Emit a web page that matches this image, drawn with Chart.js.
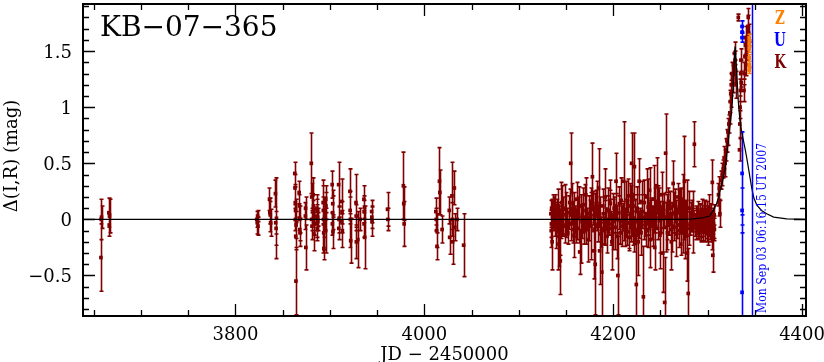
<!DOCTYPE html>
<html><head><meta charset="utf-8">
<script src="https://cdn.jsdelivr.net/npm/chart.js@4.4.1/dist/chart.umd.min.js"></script>
<style>html,body{margin:0;padding:0;background:#fff;overflow:hidden}#wrap{width:824px;height:362px}</style>
</head><body><div id="wrap"><canvas id="c" width="824" height="362"></canvas></div>
<script>
const eventTitle = "KB−07−365";
const xTitle = "JD − 2450000";
const yTitle = "Δ(I,R) (mag)";
const xTickValues = [3800, 4000, 4200, 4400];
const xTickLabels = ["3800", "4000", "4200", "4400"];
const yTickValues = [-0.5, 0, 0.5, 1, 1.5];
const yTickLabels = ["−0.5", "0", "0.5", "1", "1.5"];
const legendLabels = ["Z", "U", "K"];
const markerJD = 4346.76;
const markerText = "Mon Sep 03 06:16:15 UT 2007";

// K observations (JD-2450000, delta mag, error)
const kJD = [
 3657.5,3657.8,3658.1,3665.9,3666.3,3666.6,
 3822.5,3823.0,3823.4,3823.8,3836.0,3836.4,3836.8,3837.2,3842.3,3842.6,3843.0,3843.4,
 3862.8,3863.0,3863.3,3863.5,3863.8,3864.0,3867.4,3867.8,3868.1,3874.0,
 3874.5,3880.3,3880.7,3882.2,3882.5,3882.8,3883.1,3886.0,3886.4,3886.8,
 3887.2,3892.8,3893.2,3893.6,3895.0,3895.4,3895.8,3902.4,3902.8,3903.2,
 3909.2,3909.6,3912.4,3912.8,3913.2,3921.2,3921.6,3922.0,3927.6,3928.0,
 3929.6,3932.0,3936.0,3936.4,3936.8,3944.2,3944.6,3961.0,3961.4,3977.8,
 3978.2,3978.6,
 3863.6,3864.2,3867.6,3868.4,3874.2,3880.5,3881.0,3882.6,3883.4,3886.2,
 3886.6,3887.0,3893.0,3893.4,3895.2,3895.6,3902.6,3903.0,3909.4,3912.6,
 3921.4,3927.8,3936.2,3936.6,3944.4,
 4012.2,4012.6,4013.0,4013.4,4016.0,4016.4,4018.8,4026.4,4026.8,4029.2,
 4029.6,4030.0,4031.8,4032.2,4034.6,4041.6,
 4134.0,4134.4,4134.8,4135.3,4137.0,4137.5,4138.2,4140.0,4141.5,4142.0,
 4142.5,4143.0,4144.0,4145.0,4146.2,4147.0,4148.5,4150.0,4152.0,4154.0,
 4155.0,4155.6,4157.0,4158.5,4160.0,4161.2,4162.0,4163.5,4164.5,4165.5,
 4167.0,4168.0,4169.5,4171.0,4172.0,4173.0,4175.0,4176.5,4178.0,4178.6,
 4179.2,4180.0,4181.0,4182.0,4183.5,4184.5,4185.0,4185.6,4186.5,4188.0,
 4189.0,4190.0,4191.5,4192.5,4193.5,4195.0,4196.0,4197.0,4198.5,4199.5,
 4201.0,4202.0,4203.0,4204.0,4205.0,4206.0,4207.5,4208.5,4210.0,4211.0,
 4212.0,4213.5,4215.0,4216.0,4217.0,4218.5,4219.5,4220.5,4221.5,4222.5,
 4223.5,4224.5,4225.5,4226.5,4227.5,4228.5,4229.5,4231.0,4232.0,4233.0,
 4234.0,4235.5,4236.5,4237.5,4238.5,4239.5,4240.5,4241.5,4243.0,4244.0,
 4245.0,4246.0,4247.0,4248.5,4249.5,4250.5,4251.5,4252.5,4253.5,4254.5,
 4255.5,4256.5,4257.5,4258.5,4259.5,4260.5,4261.5,4262.5,4263.5,4264.5,
 4265.5,4266.5,4267.5,4268.5,4269.5,4270.5,4271.5,4272.5,4273.5,4274.5,
 4275.5,4276.5,4277.5,4278.5,4279.5,4280.5,4281.5,4283.0,4284.0,4285.0,
 4286.0,4287.0,4287.5,4288.0,4288.5,4289.0,4289.5,4290.0,4290.5,4291.0,
 4291.5,4292.0,4292.5,4293.0,4293.5,4294.0,4294.5,4295.0,4295.5,4296.0,
 4296.5,4297.0,4297.5,4298.0,4298.5,4299.0,4299.5,4300.0,4300.5,4301.0,
 4301.5,4302.0,4302.5,4303.0,4303.5,4304.0,4304.5,4305.0,4305.5,4306.0,
 4306.5,4307.0,
 4134.6,4136.0,4138.6,4139.0,4141.0,4143.5,4145.5,4146.8,4149.0,4151.0,
 4153.0,4156.0,4157.5,4159.0,4160.5,4163.0,4166.0,4168.5,4170.0,4171.5,
 4174.0,4177.0,4179.6,4180.5,4183.0,4187.0,4189.5,4191.0,4194.0,4196.5,
 4198.0,4200.0,4202.5,4204.5,4206.5,4209.0,4211.5,4214.0,4216.5,4218.0,
 4220.0,4222.0,4225.0,4227.0,4230.0,4232.5,4235.0,4237.0,4239.0,4242.0,
 4244.5,4247.5,4250.0,4253.0,4256.0,4258.0,4260.0,4262.0,4264.0,4266.0,
 4268.0,4270.0,4272.0,4274.0,4276.0,4278.0,4280.0,4282.0,4284.5,4286.5,
 4288.2,4289.2,4290.2,4291.2,4292.2,4293.2,4294.2,4295.2,4296.2,4297.2,
 4298.2,4299.2,4300.2,4301.2,4302.2,4303.2,4304.2,4305.2,4306.2,4307.2,
 4311.5,4312.0,4312.5,4313.0,4314.5,4315.5,4316.5,4317.5,4318.5,4319.5,
 4320.5,4321.5,4322.5,4323.5,4324.0,4324.5,4325.0,4325.5,4326.5,4327.5,
 4328.5,4329.0,4329.5,4330.0,4332.5,4333.8,4334.1,4334.4,4334.7,4335.0,
 4335.3,4335.6,4338.5,4339.0,4339.5,4340.0,4340.5,4341.0,4341.5,4342.0,
 4342.5,4343.0,4343.5
];
const kMag = [
 -0.34,0.00,0.02,0.06,-0.05,0.03,
 0.00,-0.03,0.03,-0.06,0.18,0.06,0.04,-0.03,0.23,-0.03,-0.08,0.01,
 0.41,0.28,0.14,0.00,-0.15,-0.55,0.24,0.00,-0.09,0.03,
 -0.25,0.50,0.20,0.22,0.07,0.00,-0.13,0.03,-0.04,0.08,
 -0.02,0.15,0.00,-0.26,0.05,-0.10,0.12,0.31,0.06,-0.11,
 0.31,0.00,0.16,0.06,-0.10,0.25,0.00,-0.19,0.15,-0.20,
 -0.18,0.00,0.18,0.07,-0.16,0.07,-0.02,0.09,0.00,0.30,
 0.14,-0.04,
 0.08,-0.05,0.12,-0.12,0.10,0.00,-0.06,0.12,-0.04,0.10,
 -0.09,0.02,0.08,-0.12,0.00,0.18,-0.04,0.14,-0.08,-0.02,
 0.08,0.03,-0.04,0.11,0.02,
 0.07,0.00,-0.10,-0.24,0.34,0.24,-0.09,0.08,-0.16,0.21,
 0.00,-0.20,0.28,-0.07,0.00,-0.23,
 0.05,-0.10,0.10,-0.20,0.00,0.08,-0.05,0.03,-0.15,0.12,
 -0.22,0.02,-0.37,0.08,-0.02,0.10,-0.06,0.04,-0.12,0.15,
 0.50,-0.04,0.06,-0.14,0.00,0.18,-0.08,0.04,-0.29,0.12,
 -0.02,0.08,-0.10,0.22,0.00,-0.18,0.05,-0.06,0.38,0.10,
 -0.28,0.02,-0.40,0.14,-0.05,0.28,0.05,-0.28,0.00,-0.47,
 0.12,-0.10,0.20,0.00,-0.15,0.08,-0.04,0.14,-0.20,0.03,
 0.10,-0.07,0.34,0.00,-0.50,0.06,-0.12,0.17,0.02,0.34,
 -0.09,0.08,-0.03,0.21,-0.16,0.05,0.50,-0.08,0.12,0.47,
 -0.02,-0.58,0.10,-0.20,0.34,0.00,-0.12,0.07,-0.69,0.15,
 -0.05,0.20,-0.10,0.03,0.26,-0.18,0.09,-0.03,0.18,-0.25,
 0.05,0.30,-0.08,0.13,-0.14,0.00,0.22,-0.30,0.08,-0.74,
 0.59,0.02,-0.12,0.16,-0.04,0.10,-0.20,0.05,0.32,-0.07,
 0.12,-0.13,0.00,0.20,-0.10,0.07,-0.22,0.04,0.15,-0.06,
 0.34,-0.15,0.02,-0.30,-0.66,0.10,-0.04,0.05,-0.10,0.00,
 0.67,-0.03,0.04,-0.08,0.02,-0.05,0.06,-0.10,0.00,-0.06,
 0.05,-0.02,-0.12,0.03,-0.07,0.08,-0.04,0.01,-0.09,0.04,
 -0.03,-0.11,0.07,-0.05,0.02,-0.08,0.06,-0.02,-0.13,0.03,
 -0.06,0.10,-0.04,0.00,-0.10,0.05,-0.15,0.33,-0.32,0.02,
 -0.07,0.04,
 -0.04,0.07,0.12,-0.08,0.03,-0.12,0.15,-0.05,0.09,-0.02,
 0.06,0.14,-0.09,0.04,-0.06,0.10,-0.14,0.02,0.13,-0.07,
 0.01,0.16,-0.10,0.08,0.12,-0.13,0.05,-0.03,0.09,0.17,
 -0.08,-0.02,0.11,-0.15,0.14,-0.06,0.04,0.09,-0.11,0.12,
 0.03,-0.14,0.07,-0.05,0.16,0.02,-0.09,0.11,0.05,-0.06,
 0.08,0.15,-0.12,0.04,-0.07,0.09,0.13,-0.09,0.06,0.02,
 -0.05,0.11,0.08,-0.12,0.05,0.10,-0.08,0.03,0.07,-0.05,
 0.00,0.03,-0.07,-0.02,0.05,-0.09,0.02,-0.06,0.07,-0.04,
 0.01,-0.10,0.04,-0.03,-0.08,0.06,-0.01,-0.06,-0.04,-0.09,
 0.22,0.15,0.28,0.05,0.35,0.40,0.45,0.55,0.50,0.62,
 0.70,0.78,0.85,0.95,1.05,1.12,1.20,1.30,1.25,1.38,
 1.48,1.42,1.32,1.20,1.80,0.62,0.85,1.00,1.15,1.30,
 1.42,1.22,1.15,1.30,1.45,1.55,1.62,1.38,1.50,1.62,
 1.72,1.80,1.66
];
const kErr = [
 0.30,0.18,0.10,0.13,0.10,0.15,
 0.07,0.10,0.05,0.08,0.10,0.10,0.15,0.12,0.12,0.10,0.15,0.36,
 0.10,0.12,0.15,0.10,0.12,0.30,0.10,0.12,0.10,0.12,
 0.20,0.27,0.12,0.15,0.10,0.10,0.15,0.10,0.12,0.10,
 0.08,0.20,0.30,0.10,0.15,0.20,0.12,0.12,0.15,0.15,
 0.20,0.12,0.20,0.10,0.15,0.20,0.25,0.20,0.25,0.15,
 0.25,0.10,0.12,0.10,0.28,0.10,0.13,0.15,0.10,0.30,
 0.15,0.20,
 0.10,0.12,0.10,0.12,0.10,0.10,0.12,0.10,0.10,0.12,
 0.10,0.08,0.12,0.15,0.10,0.12,0.10,0.12,0.10,0.10,
 0.12,0.10,0.12,0.10,0.10,
 0.12,0.10,0.15,0.12,0.30,0.20,0.12,0.12,0.15,0.30,
 0.15,0.20,0.15,0.12,0.10,0.28,
 0.12,0.15,0.08,0.25,0.10,0.12,0.10,0.15,0.30,0.15,
 0.20,0.10,0.30,0.25,0.12,0.10,0.15,0.20,0.10,0.12,
 0.27,0.15,0.10,0.20,0.12,0.15,0.10,0.25,0.20,0.10,
 0.15,0.20,0.12,0.15,0.10,0.20,0.12,0.30,0.30,0.15,
 0.25,0.10,0.45,0.12,0.15,0.35,0.10,0.30,0.20,0.40,
 0.15,0.12,0.25,0.10,0.15,0.20,0.10,0.12,0.25,0.15,
 0.10,0.20,0.25,0.12,0.35,0.15,0.10,0.20,0.12,0.53,
 0.15,0.10,0.20,0.15,0.12,0.25,0.27,0.15,0.10,0.30,
 0.20,0.50,0.12,0.30,0.20,0.10,0.20,0.15,0.45,0.20,
 0.10,0.25,0.15,0.12,0.20,0.25,0.10,0.15,0.30,0.20,
 0.12,0.25,0.10,0.15,0.30,0.12,0.20,0.35,0.15,0.40,
 0.35,0.20,0.15,0.12,0.10,0.15,0.25,0.10,0.20,0.12,
 0.15,0.20,0.10,0.12,0.15,0.20,0.10,0.15,0.25,0.12,
 0.40,0.20,0.15,0.25,0.40,0.15,0.10,0.12,0.20,0.08,
 0.20,0.08,0.08,0.10,0.07,0.08,0.10,0.08,0.07,0.09,
 0.08,0.10,0.08,0.07,0.09,0.10,0.08,0.07,0.10,0.08,
 0.07,0.09,0.10,0.08,0.07,0.09,0.10,0.08,0.10,0.07,
 0.09,0.12,0.08,0.07,0.10,0.08,0.12,0.20,0.15,0.08,
 0.10,0.09,
 0.12,0.15,0.10,0.18,0.12,0.20,0.15,0.10,0.22,0.12,
 0.15,0.18,0.12,0.20,0.15,0.10,0.25,0.12,0.18,0.15,
 0.20,0.12,0.18,0.15,0.22,0.12,0.15,0.20,0.12,0.18,
 0.15,0.25,0.12,0.20,0.15,0.18,0.12,0.25,0.15,0.20,
 0.18,0.15,0.22,0.12,0.18,0.20,0.15,0.25,0.12,0.18,
 0.20,0.15,0.18,0.12,0.22,0.15,0.12,0.20,0.18,0.15,
 0.12,0.15,0.20,0.18,0.12,0.25,0.15,0.12,0.18,0.10,
 0.08,0.09,0.10,0.08,0.09,0.10,0.08,0.09,0.10,0.08,
 0.09,0.10,0.08,0.09,0.10,0.08,0.09,0.10,0.09,0.10,
 0.10,0.12,0.10,0.12,0.08,0.10,0.08,0.10,0.12,0.10,
 0.10,0.12,0.08,0.10,0.10,0.12,0.10,0.10,0.12,0.10,
 0.10,0.08,0.10,0.12,0.03,0.10,0.12,0.10,0.10,0.12,
 0.10,0.08,0.10,0.10,0.12,0.08,0.10,0.10,0.08,0.10,
 0.10,0.08,0.08
];
// U observations
const uJD = [4336.5, 4336.5, 4336.5, 4336.5, 4336.5, 4336.5];
const uMag = [1.72, 1.67, 1.62, 0.41, 0.08, -0.65];
const uErr = [0.05, 0.05, 0.04, 0.37, 0.20, 0.60];
// Z observations
const zJD = [4344.0, 4344.0, 4344.0, 4344.0, 4344.0, 4344.0];
const zMag = [1.62, 1.57, 1.52, 1.44, 1.38, 1.33];
const zErr = [0.03, 0.03, 0.03, 0.03, 0.03, 0.03];
// model curve
const modelJD = [3638.5, 4270, 4285, 4295, 4302.5, 4306, 4309, 4311.3, 4313.1, 4316.6, 4318.5, 4320.2, 4321.9, 4323.7, 4325.5, 4326.2, 4327.6, 4329.0, 4330.2, 4332.5, 4334.3, 4336.1, 4339.9, 4341.4, 4344.0, 4346.7, 4349.0, 4352.0, 4357.0, 4362.6, 4370.0, 4383.8, 4404.2];
const modelMag = [0, 0, 0.005, 0.015, 0.03, 0.08, 0.13, 0.19, 0.25, 0.37, 0.45, 0.57, 0.70, 0.84, 0.97, 1.05, 1.28, 1.54, 1.40, 1.05, 0.88, 0.78, 0.62, 0.55, 0.42, 0.28, 0.19, 0.13, 0.08, 0.05, 0.02, 0.005, 0];

const pts = (xs, ys) => xs.map((x, i) => ({x: x, y: ys[i]}));
const SERIF = '"DejaVu Serif", "Liberation Serif", serif';
const COL_K = '#800000', COL_U = '#0000ff', COL_Z = '#ff8000';

const errorBars = {
  id: 'errorBars',
  beforeDatasetDraw(chart, args) {
    const ds = chart.data.datasets[args.index];
    if (!ds.errors) return;
    const {ctx, chartArea: a, scales: {x, y}} = chart;
    ctx.save();
    ctx.beginPath(); ctx.rect(a.left, a.top, a.right - a.left, a.bottom - a.top); ctx.clip();
    ctx.strokeStyle = ds.backgroundColor; ctx.lineWidth = 1.6;
    ctx.beginPath();
    ds.data.forEach((p, i) => {
      const e = ds.errors[i];
      const px = Math.round(x.getPixelForValue(p.x)) + 0.5;
      const y1 = y.getPixelForValue(p.y + e), y2 = y.getPixelForValue(p.y - e);
      ctx.moveTo(px, y1); ctx.lineTo(px, y2);
      ctx.moveTo(px - 2, y1); ctx.lineTo(px + 2, y1);
      ctx.moveTo(px - 2, y2); ctx.lineTo(px + 2, y2);
    });
    ctx.stroke();
    ctx.restore();
  }
};

const frame = {
  id: 'frame',
  afterDatasetsDraw(chart) {
    const {ctx, chartArea: a, scales: {x, y}} = chart;
    ctx.save();
    const mx = Math.round(x.getPixelForValue(markerJD)) + 0.5;
    ctx.strokeStyle = COL_U; ctx.lineWidth = 1.5;
    ctx.beginPath(); ctx.moveTo(mx, a.top); ctx.lineTo(mx, a.bottom); ctx.stroke();
    ctx.fillStyle = COL_U;
    ctx.font = '12px ' + SERIF;
    ctx.translate(mx + 13, a.bottom - 3);
    ctx.rotate(-Math.PI / 2);
    const w = ctx.measureText(markerText).width;
    ctx.scale(170 / w, 1);
    ctx.textAlign = 'left'; ctx.textBaseline = 'alphabetic';
    ctx.fillText(markerText, 0, 0);
    ctx.restore();
  },
  afterDraw(chart) {
    const {ctx, chartArea: a, scales: {x, y}} = chart;
    ctx.save();
    ctx.strokeStyle = '#000'; ctx.lineWidth = 1.3;
    ctx.beginPath();
    for (let v = 3650; v <= 4400; v += 50) {
      const px = Math.round(x.getPixelForValue(v)) + 0.5;
      const L = (v % 200 === 0) ? 12 : 6;
      ctx.moveTo(px, a.bottom); ctx.lineTo(px, a.bottom - L);
      ctx.moveTo(px, a.top); ctx.lineTo(px, a.top + L);
    }
    for (let k = -8; k <= 19; k++) {
      const py = Math.round(y.getPixelForValue(k / 10)) + 0.5;
      const L = (k % 5 === 0) ? 12 : 6;
      ctx.moveTo(a.left, py); ctx.lineTo(a.left + L, py);
      ctx.moveTo(a.right, py); ctx.lineTo(a.right - L, py);
    }
    ctx.stroke();
    ctx.lineWidth = 2;
    ctx.strokeRect(a.left, a.top, a.right - a.left, a.bottom - a.top);

    ctx.fillStyle = '#000';
    ctx.font = '18px ' + SERIF;
    ctx.textAlign = 'center'; ctx.textBaseline = 'alphabetic';
    xTickValues.forEach((v, i) => ctx.fillText(xTickLabels[i], x.getPixelForValue(v), 340));
    ctx.textAlign = 'right';
    yTickValues.forEach((v, i) => ctx.fillText(yTickLabels[i], 72, y.getPixelForValue(v) + 6.5));
    ctx.textAlign = 'center';
    ctx.fillText(xTitle, (a.left + a.right) / 2, 360);
    ctx.save();
    ctx.translate(17, 156);
    ctx.rotate(-Math.PI / 2);
    ctx.fillText(yTitle, 0, 0);
    ctx.restore();

    ctx.textAlign = 'left';
    ctx.font = '28px ' + SERIF;
    ctx.fillText(eventTitle, 100, 36);

    const cols = [COL_Z, COL_U, COL_K];
    const base = [24, 46, 68];
    ctx.font = 'bold 18px ' + SERIF;
    ctx.textAlign = 'center';
    legendLabels.forEach((t, i) => {
      ctx.save();
      ctx.translate(780, base[i]);
      ctx.scale(0.75, 1);
      ctx.fillStyle = cols[i];
      ctx.fillText(t, 0, 0);
      ctx.restore();
    });
    ctx.restore();
  }
};

new Chart(document.getElementById('c'), {
  type: 'scatter',
  data: {
    datasets: [
      {label: 'model', data: pts(modelJD, modelMag), showLine: true, borderColor: '#000', borderWidth: 1.2, pointRadius: 0, tension: 0, order: 0},
      {label: 'Z', data: pts(zJD, zMag), errors: zErr, backgroundColor: COL_Z, borderWidth: 0, pointStyle: 'rect', pointRadius: 2.6, order: 1},
      {label: 'U', data: pts(uJD, uMag), errors: uErr, backgroundColor: COL_U, borderWidth: 0, pointStyle: 'rect', pointRadius: 2.6, order: 2},
      {label: 'K', data: pts(kJD, kMag), errors: kErr, backgroundColor: COL_K, borderWidth: 0, pointStyle: 'rect', pointRadius: 2.6, order: 3}
    ]
  },
  options: {
    responsive: false, animation: false, devicePixelRatio: 1,
    layout: {padding: {left: 0, right: 18, top: 1, bottom: 0}},
    plugins: {legend: {display: false}, tooltip: {enabled: false}},
    scales: {
      x: {type: 'linear', min: 3638.5, max: 4404.2, ticks: {display: false}, grid: {display: false}, border: {display: false}, afterFit: s => { s.height = 46; }},
      y: {type: 'linear', min: -0.861, max: 1.92, ticks: {display: false}, grid: {display: false}, border: {display: false}, afterFit: s => { s.width = 83; }}
    }
  },
  plugins: [errorBars, frame]
});
</script>
</body></html>
